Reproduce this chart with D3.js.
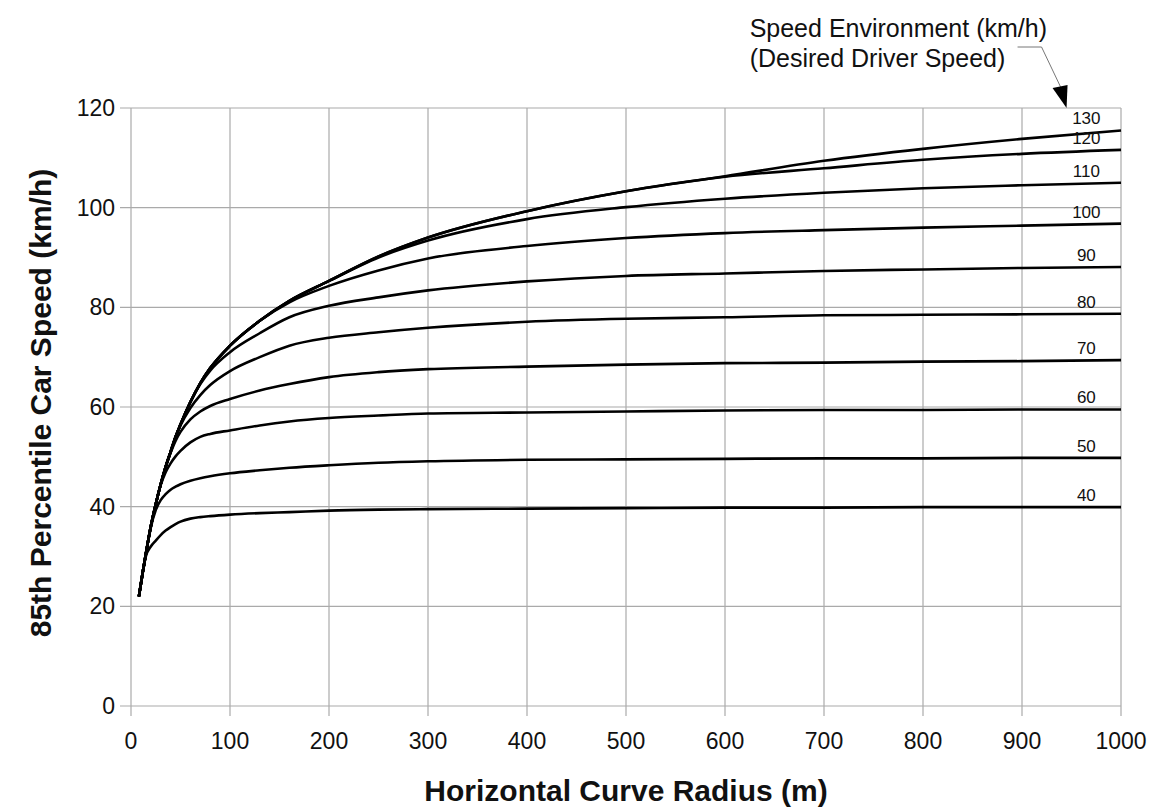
<!DOCTYPE html>
<html>
<head>
<meta charset="utf-8">
<script src="https://cdn.jsdelivr.net/npm/d3@7"></script>
<style>
    body { margin: 0; background: #fff; }
    svg { display: block; }
    text { font-family: "Liberation Sans", Arial, sans-serif; fill: #111; }
    .grid line { stroke: #aaa; stroke-width: 1.2; }
    .curve { fill: none; stroke: #000; stroke-width: 2.6; }
    .lbl { font-family: "Liberation Sans Narrow", "Arial Narrow", "Liberation Sans", sans-serif; font-stretch: condensed; font-size: 17px; }
</style>
</head>
<body>
<svg width="1152" height="807"></svg>
<script>

var radius = [8, 12, 15, 20, 25, 30, 35, 40, 45, 50, 60, 70, 80, 100, 130, 160, 200, 250, 300, 400, 500, 600, 700, 800, 900, 1000];

// speed environment of each curve (km/h)
var speedEnv = [130, 120, 110, 100, 90, 80, 70, 60, 50, 40];

// 85th percentile car speed (km/h) for each speed environment
var v130 = [22, 27, 30.5, 36, 40.5, 44.5, 48, 51, 54, 56.5, 61, 64.8, 67.8, 72.3, 77.3, 81.3, 85.3, 90.2, 94.0, 99.3, 103.3, 106.3, 109.4, 111.8, 113.8, 115.5];
var v120 = [22, 27, 30.5, 36, 40.5, 44.5, 48, 51, 54, 56.5, 61, 64.8, 67.8, 72.3, 77.3, 81.3, 85.3, 90.2, 94.0, 99.3, 103.3, 106.2, 107.9, 109.6, 110.8, 111.6];
var v110 = [22, 27, 30.5, 36, 40.5, 44.5, 48, 51, 54, 56.5, 61, 64.8, 67.8, 72.3, 77.3, 81.3, 85.3, 90.0, 93.4, 97.7, 100.1, 101.8, 103.0, 103.9, 104.5, 105.0];
var v100 = [22, 27, 30.5, 36, 40.5, 44.5, 48, 51, 54, 56.5, 61, 64.8, 67.8, 72.3, 77.3, 81.0, 84.3, 87.4, 89.8, 92.3, 93.9, 94.9, 95.5, 96.0, 96.4, 96.8];
var v90  = [22, 27, 30.5, 36, 40.5, 44.5, 48, 51, 54, 56.5, 61, 64.6, 67.3, 71.0, 74.8, 78.0, 80.3, 82.0, 83.4, 85.2, 86.3, 86.8, 87.3, 87.6, 87.9, 88.1];
var v80  = [22, 27, 30.5, 36, 40.5, 44.5, 48, 51, 54, 56.3, 59.8, 62.4, 64.4, 67.2, 70.0, 72.3, 73.9, 75.0, 75.9, 77.1, 77.7, 78.0, 78.4, 78.5, 78.6, 78.7];
var v70  = [22, 27, 30.5, 36, 40.5, 44.5, 48, 50.8, 53.2, 55.0, 57.5, 59.1, 60.2, 61.6, 63.3, 64.6, 66.0, 67.0, 67.6, 68.1, 68.5, 68.8, 68.9, 69.1, 69.2, 69.4];
var v60  = [22, 27, 30.5, 36, 40.5, 44.3, 46.9, 48.7, 50.1, 51.2, 52.9, 54.0, 54.6, 55.3, 56.3, 57.1, 57.8, 58.3, 58.7, 58.9, 59.1, 59.3, 59.4, 59.4, 59.5, 59.5];
var v50  = [22, 27, 30.5, 35.8, 39.3, 41.3, 42.5, 43.4, 44.0, 44.5, 45.2, 45.7, 46.1, 46.7, 47.3, 47.8, 48.3, 48.8, 49.1, 49.4, 49.5, 49.6, 49.7, 49.7, 49.8, 49.8];
var v40  = [22, 27, 30.0, 32.0, 33.2, 34.3, 35.2, 35.9, 36.5, 37.0, 37.6, 37.9, 38.1, 38.4, 38.7, 38.9, 39.2, 39.4, 39.5, 39.6, 39.7, 39.8, 39.8, 39.9, 39.9, 39.9];

var xTicks = [0, 100, 200, 300, 400, 500, 600, 700, 800, 900, 1000];
var yTicks = [0, 20, 40, 60, 80, 100, 120];

var speeds = [v130, v120, v110, v100, v90, v80, v70, v60, v50, v40];

var series = speedEnv.map(function (env, i) {
    return {
        env: env,
        values: radius.map(function (r, j) { return {r: r, v: speeds[i][j]}; })
    };
});

var svg = d3.select("svg");

var x = d3.scaleLinear().domain([0, 1000]).range([131, 1121]);
var y = d3.scaleLinear().domain([0, 120]).range([706, 108]);

// grid: vertical lines run a bit below the 0 line, horizontal a bit left of x=0
var grid = svg.append("g").attr("class", "grid");
grid.selectAll(".gx").data(xTicks).enter().append("line")
    .attr("x1", function (d) { return x(d); })
    .attr("x2", function (d) { return x(d); })
    .attr("y1", y(120))
    .attr("y2", y(0) + 10);
grid.selectAll(".gy").data(yTicks).enter().append("line")
    .attr("x1", x(0) - 11)
    .attr("x2", x(1000))
    .attr("y1", function (d) { return y(d); })
    .attr("y2", function (d) { return y(d); });

// tick labels
svg.append("g").selectAll("text").data(xTicks).enter().append("text")
    .attr("x", function (d) { return x(d); })
    .attr("y", y(0) + 43)
    .attr("text-anchor", "middle")
    .style("font-size", "23px")
    .text(function (d) { return d; });

svg.append("g").selectAll("text").data(yTicks).enter().append("text")
    .attr("x", x(0) - 16)
    .attr("y", function (d) { return y(d) + 8; })
    .attr("text-anchor", "end")
    .style("font-size", "23px")
    .text(function (d) { return d; });

// curves
var line = d3.line()
    .x(function (d) { return x(d.r); })
    .y(function (d) { return y(d.v); })
    .curve(d3.curveMonotoneX);

svg.append("g").selectAll("path").data(series).enter().append("path")
    .attr("class", "curve")
    .attr("d", function (d) { return line(d.values); });

// speed environment labels just above the right end of each curve
svg.append("g").selectAll("text").data(series).enter().append("text")
    .attr("class", "lbl")
    .attr("x", x(965))
    .attr("y", function (d) { return y(d.values[d.values.length - 1].v) - 6; })
    .attr("text-anchor", "middle")
    .text(function (d) { return d.env; });

// axis titles
svg.append("text")
    .attr("x", (x(0) + x(1000)) / 2)
    .attr("y", 801)
    .attr("text-anchor", "middle")
    .style("font-size", "30px")
    .style("font-weight", "bold")
    .text("Horizontal Curve Radius (m)");

svg.append("text")
    .attr("transform", "translate(51,403) rotate(-90)")
    .attr("text-anchor", "middle")
    .style("font-size", "30px")
    .style("font-weight", "bold")
    .text("85th Percentile Car Speed (km/h)");

// annotation with leader arrow
var note = svg.append("g").style("font-size", "25px");
var t1 = note.append("text").attr("y", 37).text("Speed Environment (km/h)");
var t2 = note.append("text").attr("y", 67).text("(Desired Driver Speed)");
var w1 = t1.node().getComputedTextLength();
t1.attr("x", 1047 - w1);
t2.attr("x", 1047 - w1);

var tipX = x(945), tipY = y(120);
svg.append("path")
    .attr("d", "M" + (tipX - 49) + "," + 47 + "H" + (tipX - 25) + "L" + (tipX - 5) + "," + (tipY - 19))
    .attr("fill", "none")
    .attr("stroke", "#777")
    .attr("stroke-width", 1);
svg.append("path")
    .attr("d", "M" + (tipX - 14) + "," + (tipY - 20) + "L" + (tipX + 1) + "," + (tipY - 23) + "L" + tipX + "," + tipY + "Z")
    .attr("fill", "#000");

</script>
</body>
</html>
